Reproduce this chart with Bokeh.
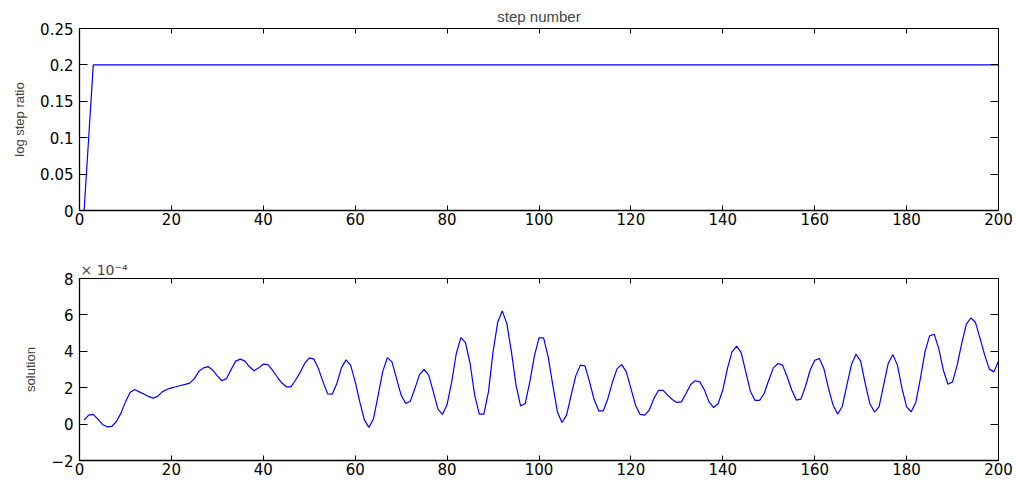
from bokeh.plotting import figure
from bokeh.layouts import column
from bokeh.models import LinearAxis, FixedTicker, Range1d, Title
from bokeh.embed import file_html
from bokeh.resources import INLINE

# ---- data -----------------------------------------------------------------
step = list(range(1, 201))

log_step_ratio = [0.0, 0.1] + [0.2] * 198

# solution values, in units of 1e-4
solution_e4 = [
    0.22, 0.49, 0.53, 0.27, -0.02, -0.15, -0.13, 0.13, 0.59, 1.22,
    1.74, 1.90, 1.77, 1.65, 1.52, 1.43, 1.52, 1.77, 1.90, 1.99,
    2.05, 2.12, 2.18, 2.25, 2.50, 2.90, 3.09, 3.16, 2.96, 2.65,
    2.38, 2.50, 3.00, 3.46, 3.57, 3.46, 3.15, 2.93, 3.09, 3.29,
    3.27, 2.96, 2.60, 2.27, 2.05, 2.05, 2.41, 2.83, 3.33, 3.64,
    3.57, 3.05, 2.32, 1.66, 1.64, 2.23, 3.09, 3.53, 3.24, 2.32,
    1.22, 0.22, -0.18, 0.31, 1.59, 2.90, 3.65, 3.42, 2.50, 1.59,
    1.13, 1.26, 1.96, 2.72, 3.00, 2.69, 1.77, 0.82, 0.53, 1.08,
    2.32, 3.88, 4.75, 4.48, 3.33, 1.59, 0.55, 0.55, 1.77, 3.97,
    5.58, 6.22, 5.52, 3.97, 2.14, 0.99, 1.13, 2.32, 3.75, 4.74,
    4.74, 3.69, 2.14, 0.68, 0.09, 0.49, 1.59, 2.65, 3.24, 3.20,
    2.32, 1.35, 0.73, 0.73, 1.41, 2.32, 3.05, 3.27, 2.87, 1.96,
    1.04, 0.53, 0.49, 0.77, 1.41, 1.85, 1.85, 1.59, 1.35, 1.19,
    1.22, 1.68, 2.18, 2.38, 2.32, 1.87, 1.22, 0.91, 1.13, 1.87,
    3.05, 3.97, 4.28, 3.93, 2.87, 1.81, 1.30, 1.30, 1.68, 2.41,
    3.09, 3.33, 3.24, 2.60, 1.87, 1.32, 1.37, 2.08, 2.96, 3.51,
    3.60, 3.05, 1.96, 1.04, 0.55, 0.97, 2.14, 3.27, 3.84, 3.46,
    2.23, 1.13, 0.66, 0.95, 2.14, 3.33, 3.82, 3.24, 1.96, 0.95,
    0.68, 1.19, 2.50, 3.97, 4.85, 4.94, 4.15, 2.96, 2.19, 2.32,
    3.24, 4.43, 5.49, 5.83, 5.58, 4.70, 3.79, 3.02, 2.87, 3.46,
]

x_ticks = [0, 20, 40, 60, 80, 100, 120, 140, 160, 180, 200]
x_tick_labels = ["0", "20", "40", "60", "80", "100", "120", "140", "160", "180", "200"]

ratio_ticks = [0, 0.05, 0.1, 0.15, 0.2, 0.25]
ratio_tick_labels = ["0", "0.05", "0.1", "0.15", "0.2", "0.25"]

sol_ticks = [-2, 0, 2, 4, 6, 8]
sol_tick_labels = ["\u22122", "0", "2", "4", "6", "8"]

sol_multiplier = "\u00d7 10\u207b\u2074"

# ---- styling --------------------------------------------------------------
TICK_FONT = "DejaVu Sans"
TICK_SIZE = "15px"
LABEL_FONT = "Liberation Sans"
LINE_BLUE = "#0000ff"

x_range = Range1d(0, 200)


def style_axes(p, yticks, ylabels, ylabel):
    xb = p.xaxis[0]
    yl = p.yaxis[0]
    xb.ticker = FixedTicker(ticks=x_ticks)
    xb.major_label_overrides = dict(zip(x_ticks, x_tick_labels))
    yl.ticker = FixedTicker(ticks=yticks)
    yl.major_label_overrides = dict(zip(yticks, ylabels))
    for ax in (xb, yl):
        ax.minor_tick_line_color = None
        ax.major_tick_out = 0
        ax.axis_line_color = "black"
        ax.axis_line_width = 1.3
        ax.major_tick_line_color = "black"
        ax.major_label_text_font = TICK_FONT
        ax.major_label_text_font_size = TICK_SIZE
        ax.major_label_text_color = "black"
    xb.major_tick_in = 5
    yl.major_tick_in = 8
    xb.major_label_standoff = 2
    yl.major_label_standoff = 6
    yl.axis_label = ylabel
    yl.axis_label_text_font = LABEL_FONT
    yl.axis_label_text_font_size = "13px"
    yl.axis_label_text_font_style = "normal"
    yl.axis_label_standoff = 10

    # tick marks on the top and right edges of the box (no labels there)
    top = LinearAxis(ticker=FixedTicker(ticks=x_ticks))
    right = LinearAxis(ticker=FixedTicker(ticks=yticks))
    for ax, tin in ((top, 5), (right, 8)):
        ax.major_tick_in = tin
        ax.major_tick_out = 0
        ax.minor_tick_line_color = None
        ax.axis_line_color = "black"
        ax.axis_line_width = 0.8
        ax.major_tick_line_color = "black"
        ax.major_label_text_font_size = "1px"
        ax.major_label_text_color = None
        ax.major_label_standoff = 0
    p.add_layout(top, "above")
    p.add_layout(right, "right")

    p.xgrid.grid_line_color = None
    p.ygrid.grid_line_color = None
    p.outline_line_color = "black"
    p.background_fill_color = "white"
    p.border_fill_color = "white"


# ---- top panel: log step ratio --------------------------------------------
p1 = figure(width=1016, height=240, x_range=x_range, y_range=Range1d(0, 0.25),
            output_backend="svg", toolbar_location=None,
            min_border_left=79, min_border_right=18,
            min_border_top=28, min_border_bottom=30)
p1.line(step, log_step_ratio, line_color=LINE_BLUE, line_width=1.2)
style_axes(p1, ratio_ticks, ratio_tick_labels, "log step ratio")
p1.add_layout(Title(text="step number", align="center", text_font=LABEL_FONT,
                    text_font_size="15px", text_font_style="normal",
                    standoff=8), "above")

# ---- bottom panel: solution -----------------------------------------------
p2 = figure(width=1016, height=241, x_range=x_range, y_range=Range1d(-2, 8),
            output_backend="svg", toolbar_location=None,
            min_border_left=79, min_border_right=18,
            min_border_top=38, min_border_bottom=21)
p2.line(step, solution_e4, line_color=LINE_BLUE, line_width=1.2)
style_axes(p2, sol_ticks, sol_tick_labels, "solution")
p2.add_layout(Title(text=sol_multiplier, align="left", text_font=TICK_FONT,
                    text_font_size="14px", text_font_style="normal",
                    standoff=1, offset=1), "above")

layout = column(p1, p2, spacing=0)

open("out.html", "w").write(file_html(layout, INLINE))
